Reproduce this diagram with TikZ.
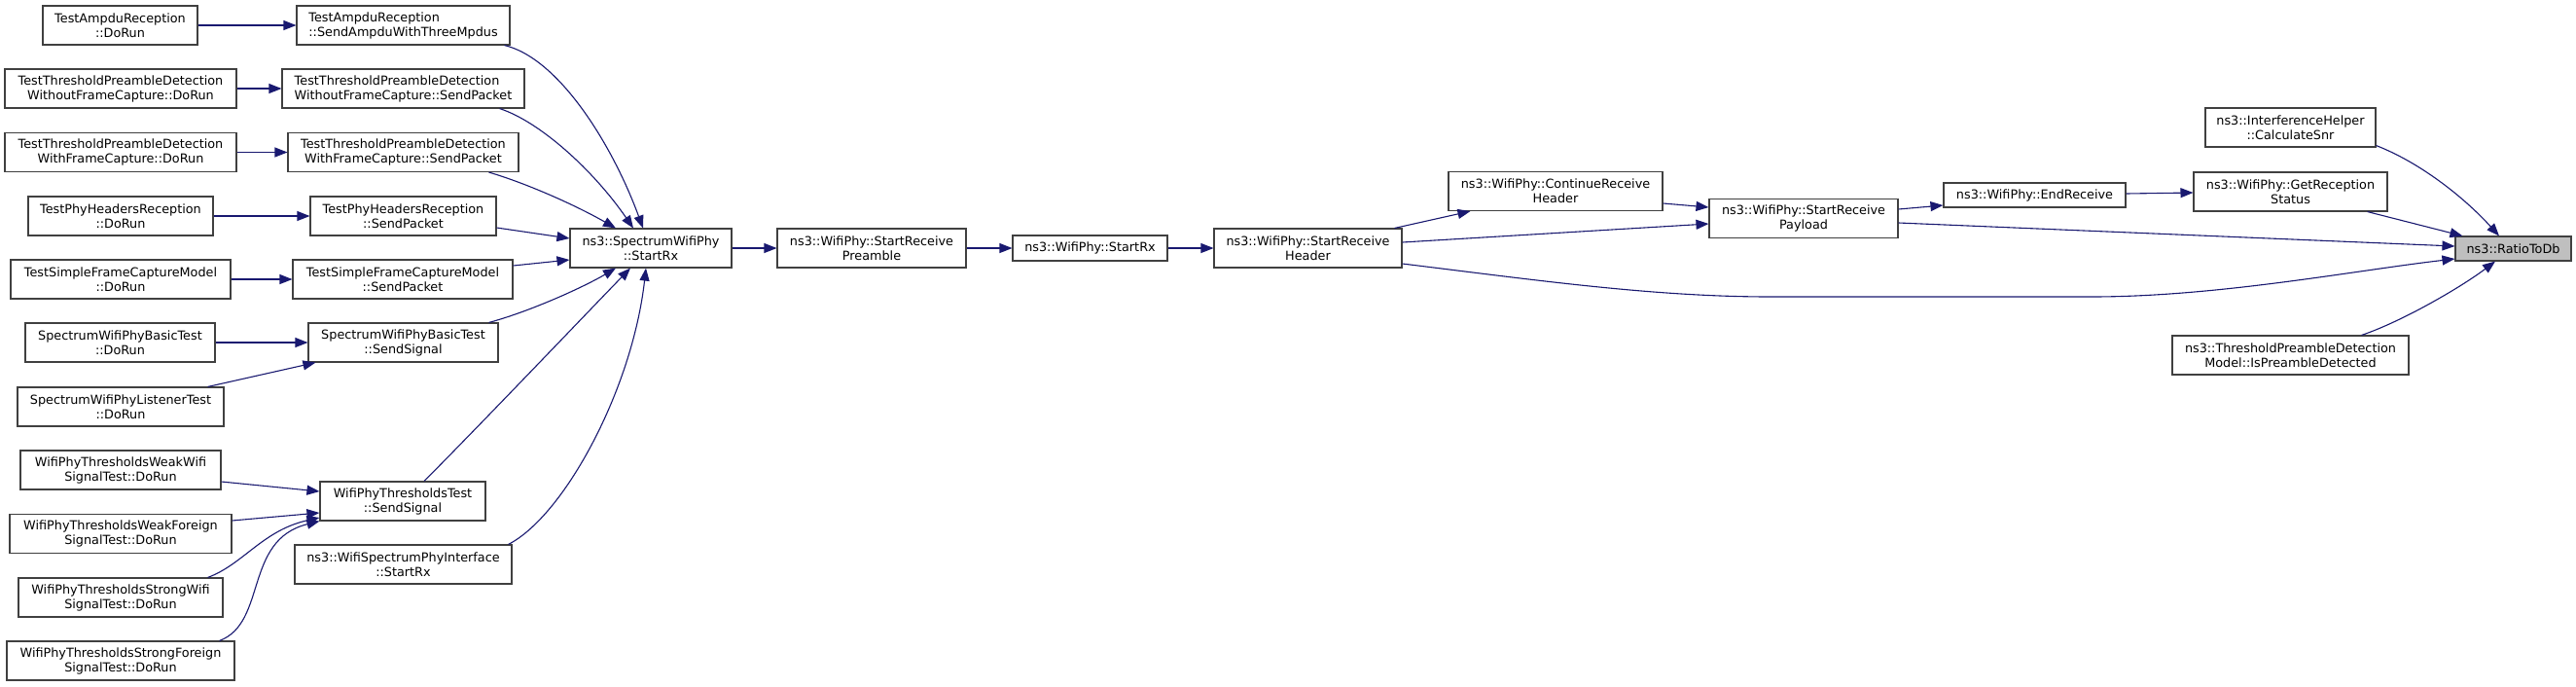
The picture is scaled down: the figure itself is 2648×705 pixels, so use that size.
\documentclass[tikz,border=0pt]{standalone}
\usepackage{fontspec}
\setmainfont{DejaVu Sans}
\usetikzlibrary{arrows.meta,calc}
\definecolor{edgeblue}{RGB}{25,25,112}
\definecolor{boxline}{RGB}{64,64,64}
\definecolor{hilite}{RGB}{191,191,191}
\tikzset{
  fn/.style={draw=boxline, fill=white, line width=1.1pt, inner sep=0pt,
    font=\fontsize{12.8}{15}\selectfont, align=center, minimum height=40pt},
  fnone/.style={fn, minimum height=25pt},
  callarrow/.style={draw=edgeblue, line width=1.1pt, -{Triangle[length=13pt,width=10pt]}},
}
\begin{document}
\begin{tikzpicture}[x=1pt,y=-1pt]
\fill[white] (0,0) rectangle (2648,705);
\useasboundingbox (0,0) rectangle (2648,705);
% column 1
\node[fn, minimum width=159pt] (A1) at (123.5,26) {TestAmpduReception\\::DoRun};
\node[fn, minimum width=238pt] (A2) at (124,91) {TestThresholdPreambleDetection\\WithoutFrameCapture::DoRun};
\node[fn, minimum width=238pt] (A3) at (124,156.5) {TestThresholdPreambleDetection\\WithFrameCapture::DoRun};
\node[fn, minimum width=190pt] (A4) at (124,222) {TestPhyHeadersReception\\::DoRun};
\node[fn, minimum width=226pt] (A5) at (124,287) {TestSimpleFrameCaptureModel\\::DoRun};
\node[fn, minimum width=195pt] (A6) at (123.5,352) {SpectrumWifiPhyBasicTest\\::DoRun};
\node[fn, minimum width=212pt] (A7) at (124,418) {SpectrumWifiPhyListenerTest\\::DoRun};
\node[fn, minimum width=206pt] (A8) at (124,483) {WifiPhyThresholdsWeakWifi\\SignalTest::DoRun};
\node[fn, minimum width=228pt] (A9) at (124,548.5) {WifiPhyThresholdsWeakForeign\\SignalTest::DoRun};
\node[fn, minimum width=210pt] (A10) at (124,614) {WifiPhyThresholdsStrongWifi\\SignalTest::DoRun};
\node[fn, minimum width=234pt] (A11) at (124,679) {WifiPhyThresholdsStrongForeign\\SignalTest::DoRun};
% column 2
\node[fn, align=left, minimum width=219pt] (B1) at (414.5,26) {TestAmpduReception\\::SendAmpduWithThreeMpdus};
\node[fn, align=left, minimum width=249pt] (B2) at (414.5,91) {TestThresholdPreambleDetection\\WithoutFrameCapture::SendPacket};
\node[fn, minimum width=237pt] (B3) at (414.5,156.5) {TestThresholdPreambleDetection\\WithFrameCapture::SendPacket};
\node[fn, minimum width=191pt] (B4) at (414.5,222) {TestPhyHeadersReception\\::SendPacket};
\node[fn, minimum width=226pt] (B5) at (414,287) {TestSimpleFrameCaptureModel\\::SendPacket};
\node[fn, minimum width=195pt] (B6) at (414.5,352) {SpectrumWifiPhyBasicTest\\::SendSignal};
\node[fn, minimum width=170pt] (B7) at (414,515) {WifiPhyThresholdsTest\\::SendSignal};
\node[fn, minimum width=223pt] (B8) at (414.5,580) {ns3::WifiSpectrumPhyInterface\\::StartRx};
% chain
\node[fn, minimum width=166pt] (C) at (669,255) {ns3::SpectrumWifiPhy\\::StartRx};
\node[fn, minimum width=194pt] (D) at (896,255) {ns3::WifiPhy::StartReceive\\Preamble};
\node[fnone, minimum width=159pt, minimum height=26pt] (E) at (1120.5,255) {ns3::WifiPhy::StartRx};
\node[fn, minimum width=193pt] (F) at (1344.5,255) {ns3::WifiPhy::StartReceive\\Header};
\node[fn, minimum width=220pt] (G) at (1599,196.5) {ns3::WifiPhy::ContinueReceive\\Header};
\node[fn, minimum width=194pt] (H) at (1854,224.5) {ns3::WifiPhy::StartReceive\\Payload};
\node[fnone, minimum width=187pt] (I) at (2091.5,200.5) {ns3::WifiPhy::EndReceive};
\node[fn, minimum width=175pt] (J) at (2354.5,131) {ns3::InterferenceHelper\\::CalculateSnr};
\node[fn, minimum width=199pt] (K) at (2354.5,197) {ns3::WifiPhy::GetReception\\Status};
\node[fn, minimum width=243pt] (L) at (2354.5,365) {ns3::ThresholdPreambleDetection\\Model::IsPreambleDetected};
\node[fnone, fill=hilite, minimum width=119pt] (R) at (2583.5,255.5) {ns3::RatioToDb};
% edges column 1 -> column 2
\draw[callarrow] (A1.east) -- (B1.west);
\draw[callarrow] (A2.east) -- (B2.west);
\draw[callarrow] (A3.east) -- (B3.west);
\draw[callarrow] (A4.east) -- (B4.west);
\draw[callarrow] (A5.east) -- (B5.west);
\draw[callarrow] (A6.east) -- (B6.west);
\draw[callarrow] ($(A7.north east)+(-17,0)$) -- ($(B6.south west)+(8,0)$);
\draw[callarrow] ($(A8.east)+(0,12)$) -- ($(B7.west)+(0,-10)$);
\draw[callarrow] ($(A9.east)+(0,-13.5)$) -- ($(B7.west)+(0,12)$);
\draw[callarrow] ($(A10.north east)+(-16,0)$) .. controls (250,580) and (270,545) .. ($(B7.west)+(0,17)$);
\draw[callarrow] ($(A11.north east)+(-16,0)$) .. controls (275,640) and (250,555) .. (B7.south west);
% column 2 -> C
\draw[callarrow] ($(B1.south east)+(-6,0)$) .. controls (575,60) and (630,150) .. ($(C.north)+(-8,0)$);
\draw[callarrow] ($(B2.south east)+(-26,0)$) .. controls (555,125) and (610,175) .. ($(C.north)+(-18,0)$);
\draw[callarrow] ($(B3.south east)+(-31,0)$) .. controls (540,188) and (590,210) .. ($(C.north)+(-36,0)$);
\draw[callarrow] ($(B4.east)+(0,12)$) -- ($(C.west)+(0,-10)$);
\draw[callarrow] ($(B5.east)+(0,-14)$) -- ($(C.west)+(0,12)$);
\draw[callarrow] ($(B6.north east)+(-10,0)$) .. controls (545,320) and (600,295) .. ($(C.south)+(-36,0)$);
\draw[callarrow] ($(B7.north)+(22,0)$) .. controls (500,430) and (600,325) .. ($(C.south)+(-21,0)$);
\draw[callarrow] ($(B8.north east)+(-4,0)$) .. controls (580,530) and (650,400) .. ($(C.south)+(-5,0)$);
% chain edges
\draw[callarrow] (C.east) -- (D.west);
\draw[callarrow] (D.east) -- (E.west);
\draw[callarrow] (E.east) -- (F.west);
\draw[callarrow] ($(F.north east)+(-8,0)$) -- ($(G.south west)+(23,0)$);
\draw[callarrow] ($(F.east)+(0,-6)$) -- ($(H.west)+(0,5.5)$);
\draw[callarrow] ($(F.east)+(0,16)$) .. controls (1580,288) and (1700,305) .. (1820,305)
   -- (2150,305) .. controls (2280,305) and (2420,278) .. ($(R.west)+(0,10.5)$);
\draw[callarrow] ($(G.east)+(0,12.5)$) -- ($(H.west)+(0,-11.5)$);
\draw[callarrow] ($(H.east)+(0,-9.5)$) -- ($(I.west)+(0,10.5)$);
\draw[callarrow] ($(H.east)+(0,4.5)$) -- ($(R.west)+(0,-2.5)$);
\draw[callarrow] ($(I.east)+(0,-1.5)$) -- ($(K.west)+(0,1)$);
\draw[callarrow] ($(J.south east)+(0,-2)$) .. controls (2490,168) and (2535,205) .. ($(R.north)+(-14.5,0)$);
\draw[callarrow] ($(K.south east)+(-21,0)$) -- ($(R.north west)+(8,0)$);
\draw[callarrow] ($(L.north east)+(-49,0)$) .. controls (2470,330) and (2530,295) .. ($(R.south)+(-18.5,0)$);
\end{tikzpicture}
\end{document}
